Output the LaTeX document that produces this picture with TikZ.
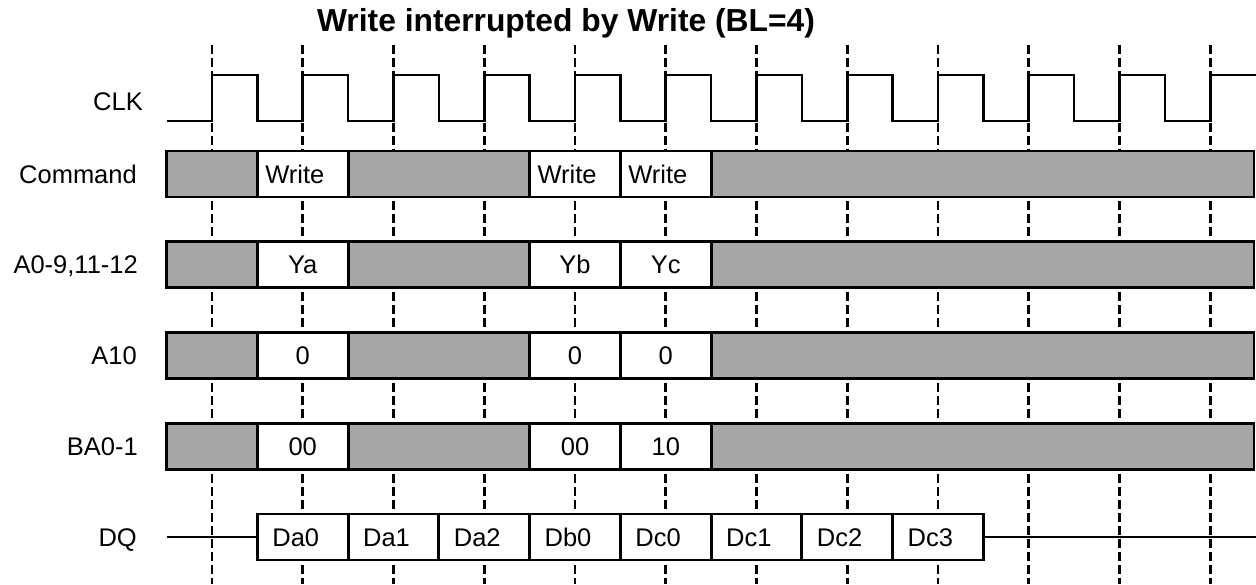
\documentclass[tikz,border=0pt]{standalone}
\usepackage{fontspec}
\setmainfont{Liberation Sans}
\usepackage{xcolor}
\definecolor{busgray}{RGB}{166,166,166}
\tikzset{
  wbox/.style={draw, fill=white, line width=2.8pt, minimum height=46pt, minimum width=90.75pt, inner sep=0pt, text height=18.3pt, text depth=0pt},
  gbox/.style={wbox, fill=busgray},
  lbox/.style={wbox, inner xsep=8pt, text width=74.75pt, align=left},
  dbox/.style={wbox, inner xsep=15pt, text width=60.75pt, align=left},
  siglabel/.style={anchor=east, inner sep=0pt, text height=18.3pt, text depth=0pt},
  tick/.style={dash pattern=on 8.5pt off 4.5pt, line width=2.6pt},
  wave/.style={line width=2.6pt}
}

\begin{document}
\begin{tikzpicture}[x=1pt,y=-1pt,font=\fontsize{25.5}{30}\selectfont]
  \useasboundingbox (0,0) rectangle (1256,584);
  \node[anchor=base, font=\fontsize{31.8}{36}\selectfont\bfseries] (title) at (566,31.5) {Write interrupted by Write (BL=4)};

  % clock edges
  \draw[tick] (212,45)--(212,584);
  \draw[tick] (302.75,45)--(302.75,584);
  \draw[tick] (393.5,45)--(393.5,584);
  \draw[tick] (484.25,45)--(484.25,584);
  \draw[tick] (575,45)--(575,584);
  \draw[tick] (665.75,45)--(665.75,584);
  \draw[tick] (756.5,45)--(756.5,584);
  \draw[tick] (847.25,45)--(847.25,584);
  \draw[tick] (938,45)--(938,584);
  \draw[tick] (1028.75,45)--(1028.75,584);
  \draw[tick] (1119.5,45)--(1119.5,584);
  \draw[tick] (1210.25,45)--(1210.25,584);

  % CLK
  \node[siglabel] (clk) at (143,101) {CLK};
  \draw[wave] (166.625,121)--++(45.375,0)
    --++(0,-46)--++(45.375,0)--++(0,46)--++(45.375,0)
    --++(0,-46)--++(45.375,0)--++(0,46)--++(45.375,0)
    --++(0,-46)--++(45.375,0)--++(0,46)--++(45.375,0)
    --++(0,-46)--++(45.375,0)--++(0,46)--++(45.375,0)
    --++(0,-46)--++(45.375,0)--++(0,46)--++(45.375,0)
    --++(0,-46)--++(45.375,0)--++(0,46)--++(45.375,0)
    --++(0,-46)--++(45.375,0)--++(0,46)--++(45.375,0)
    --++(0,-46)--++(45.375,0)--++(0,46)--++(45.375,0)
    --++(0,-46)--++(45.375,0)--++(0,46)--++(45.375,0)
    --++(0,-46)--++(45.375,0)--++(0,46)--++(45.375,0)
    --++(0,-46)--++(45.375,0)--++(0,46)--++(45.375,0)
    --++(0,-46)--++(46,0);

  % Command
  \node[siglabel] (cmd) at (137,174) {Command};
  \node[gbox] (cmdA) at (212,174) {};
  \node[lbox] (cmdB) at (302.75,174) {Write};
  \node[gbox, minimum width=181.5pt] (cmdC) at (438.875,174) {};
  \node[lbox] (cmdD) at (575,174) {Write};
  \node[lbox] (cmdE) at (665.75,174) {Write};
  \node[gbox, minimum width=542.875pt] (cmdF) at (982.5625,174) {};

  % A0-9,11-12
  \node[siglabel] (addr) at (138,264.75) {A0-9,11-12};
  \node[gbox] (addrA) at (212,264.75) {};
  \node[wbox] (addrB) at (302.75,264.75) {Ya};
  \node[gbox, minimum width=181.5pt] (addrC) at (438.875,264.75) {};
  \node[wbox] (addrD) at (575,264.75) {Yb};
  \node[wbox] (addrE) at (665.75,264.75) {Yc};
  \node[gbox, minimum width=542.875pt] (addrF) at (982.5625,264.75) {};

  % A10
  \node[siglabel] (aten) at (137,355.5) {A10};
  \node[gbox] (atenA) at (212,355.5) {};
  \node[wbox] (atenB) at (302.75,355.5) {0};
  \node[gbox, minimum width=181.5pt] (atenC) at (438.875,355.5) {};
  \node[wbox] (atenD) at (575,355.5) {0};
  \node[wbox] (atenE) at (665.75,355.5) {0};
  \node[gbox, minimum width=542.875pt] (atenF) at (982.5625,355.5) {};

  % BA0-1
  \node[siglabel] (bank) at (138,446.25) {BA0-1};
  \node[gbox] (bankA) at (212,446.25) {};
  \node[wbox] (bankB) at (302.75,446.25) {00};
  \node[gbox, minimum width=181.5pt] (bankC) at (438.875,446.25) {};
  \node[wbox] (bankD) at (575,446.25) {00};
  \node[wbox] (bankE) at (665.75,446.25) {10};
  \node[gbox, minimum width=542.875pt] (bankF) at (982.5625,446.25) {};

  % DQ
  \node[siglabel] (dq) at (137,537) {DQ};
  \coordinate (dqin) at (166.625,537);
  \coordinate (dqout) at (1256,537);
  \node[dbox] (da0) at (302.75,537) {Da0};
  \node[dbox] (da1) at (393.5,537) {Da1};
  \node[dbox] (da2) at (484.25,537) {Da2};
  \node[dbox] (db0) at (575,537) {Db0};
  \node[dbox] (dc0) at (665.75,537) {Dc0};
  \node[dbox] (dc1) at (756.5,537) {Dc1};
  \node[dbox] (dc2) at (847.25,537) {Dc2};
  \node[dbox] (dc3) at (938,537) {Dc3};
  \draw[wave] (dqin)--(da0.west);
  \draw[wave] (dc3.east)--(dqout);
\end{tikzpicture}
\end{document}
